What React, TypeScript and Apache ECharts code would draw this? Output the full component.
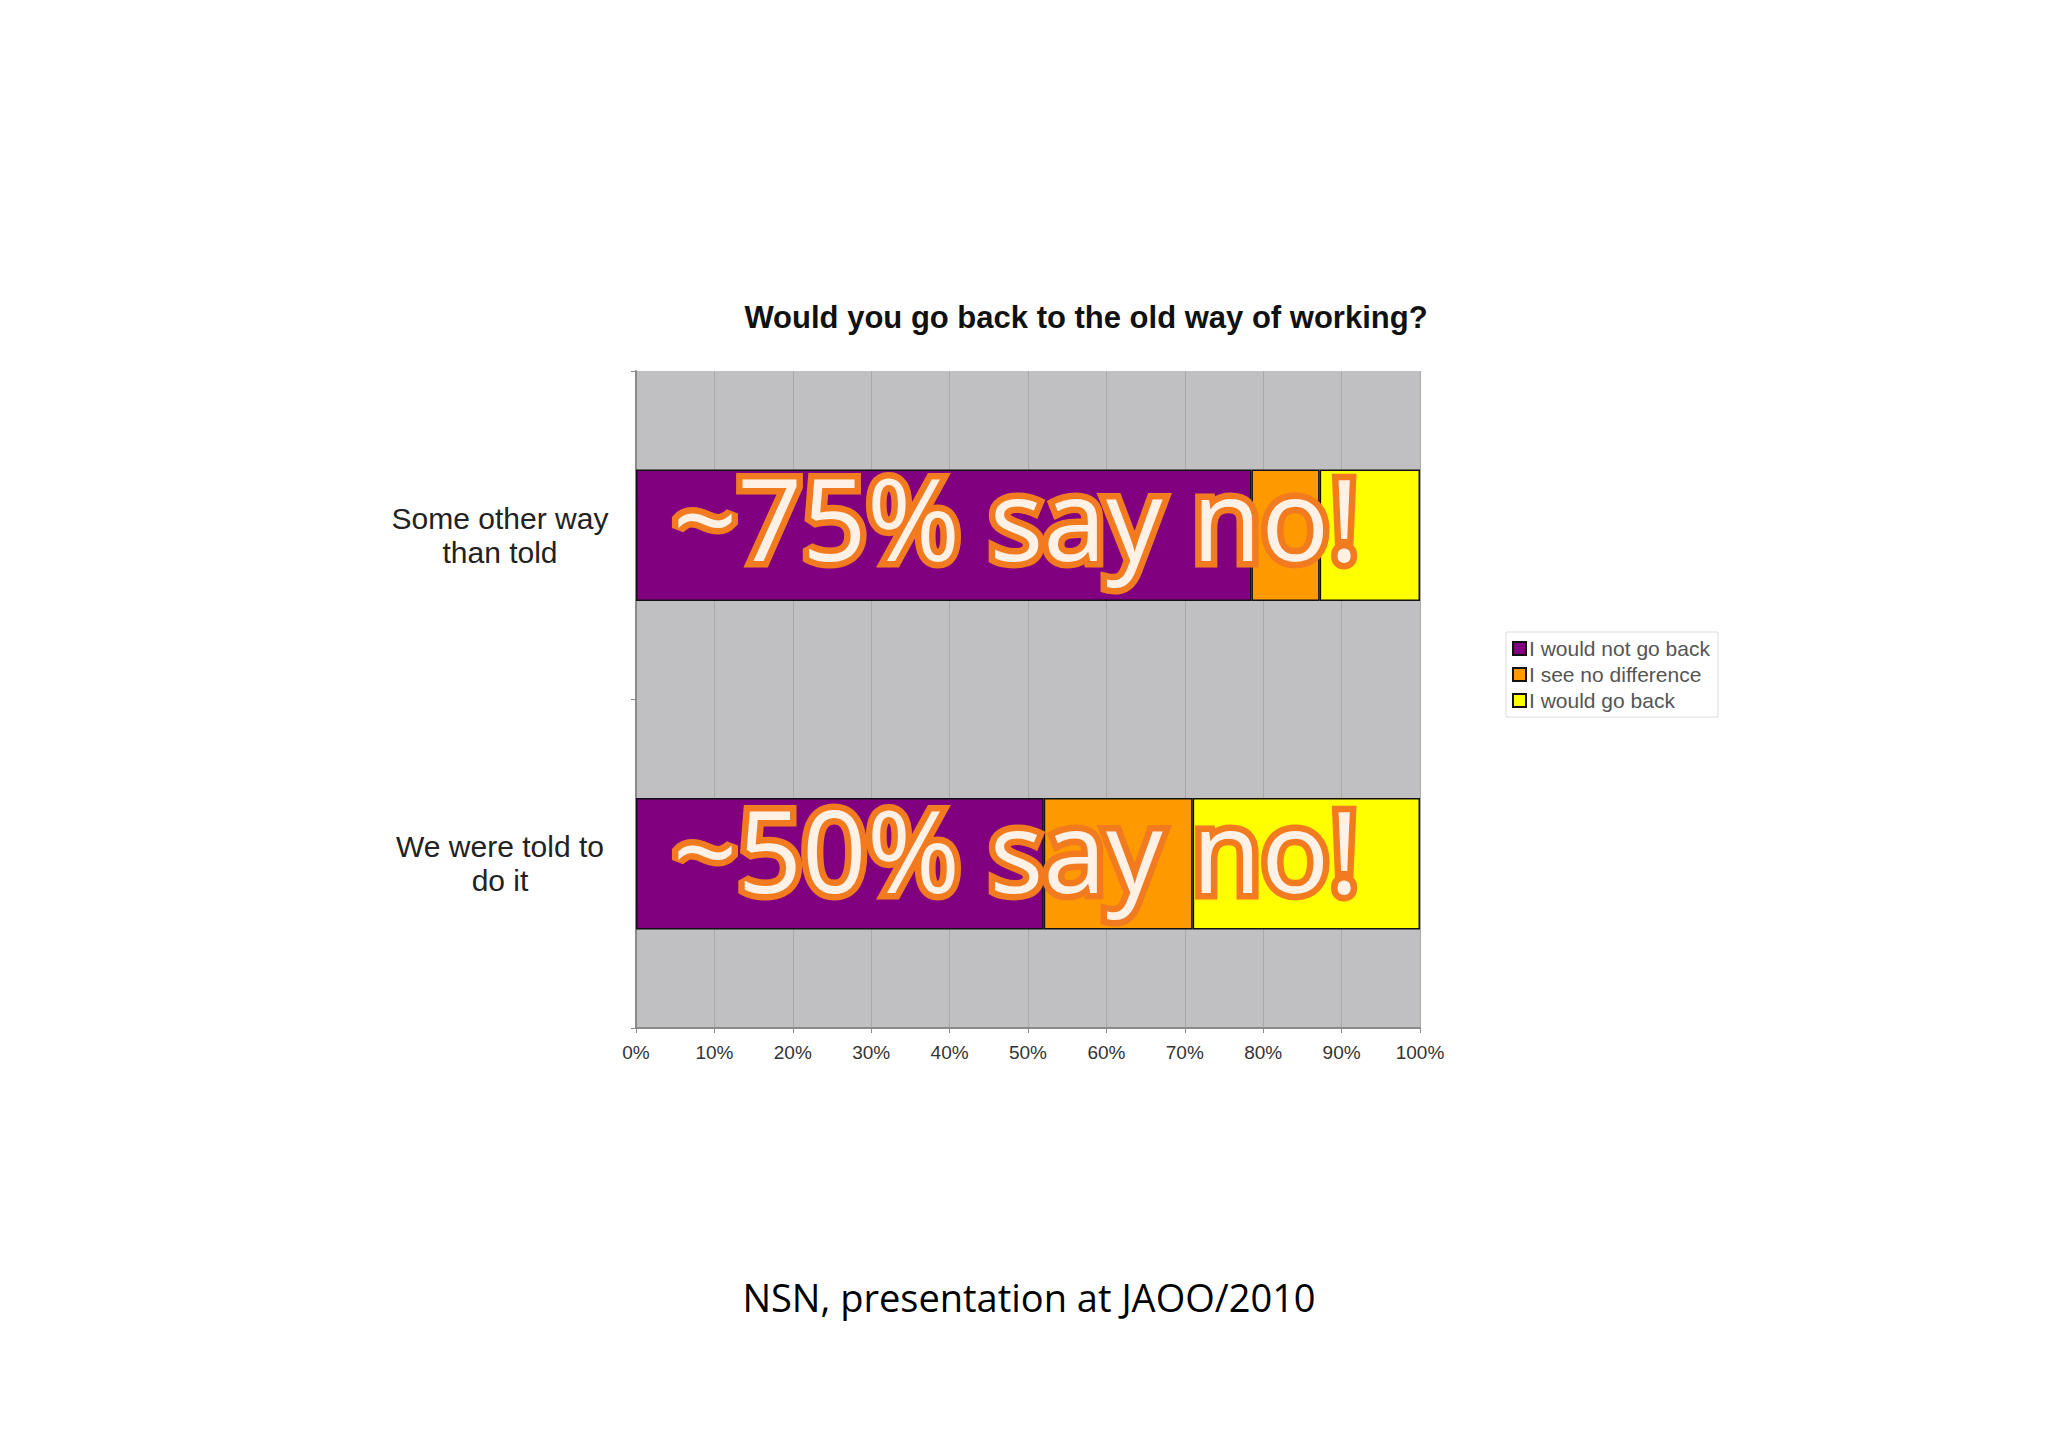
import React, { useEffect, useRef } from 'react'
import * as echarts from 'echarts'

const categories = ['Some other way\nthan told', 'We were told to\ndo it']
const seriesNames = ['I would not go back', 'I see no difference', 'I would go back']
const notGoBack = [78.5, 52]
const noDifference = [8.7, 19]
const goBack = [12.8, 29]
const xTicks = [0, 10, 20, 30, 40, 50, 60, 70, 80, 90, 100]
const colors = ['#800080', '#ff9900', '#ffff00']
const overlays = ['~75% say no!', '~50% say no!']

export default function App(): JSX.Element {
  const ref = useRef<HTMLDivElement>(null)

  useEffect(() => {
    if (!ref.current) return
    const chart = echarts.init(ref.current, null, { renderer: 'svg' })
    const values = [notGoBack, noDifference, goBack]
    const overlayY = [573, 905]

    // outline layer first, plain fill layer on top
    const overlayText = (t: string, i: number, outline: boolean) => ({
      type: 'text',
      x: 1016,
      y: overlayY[i],
      z: outline ? 100 : 101,
      style: {
        text: t,
        font: '113px "Open Sans"',
        textAlign: 'center',
        textVerticalAlign: 'bottom',
        fill: outline ? '#f27b1f' : '#fff1e6',
        stroke: outline ? '#f27b1f' : 'none',
        lineWidth: outline ? 13 : 0
      }
    })

    chart.setOption({
      animation: false,
      backgroundColor: '#ffffff',
      title: {
        text: 'Would you go back to the old way of working?',
        left: 1081,
        top: 297,
        textAlign: 'center',
        textStyle: { fontFamily: 'Liberation Sans', fontWeight: 'bold', fontSize: 31, color: '#111' }
      },
      legend: {
        orient: 'vertical',
        left: 1506,
        top: 632,
        icon: 'rect',
        itemWidth: 13,
        itemHeight: 13,
        itemGap: 5,
        padding: [6, 8, 6, 6],
        borderColor: '#dddddd',
        borderWidth: 1,
        data: seriesNames,
        textStyle: { fontFamily: 'Liberation Sans', fontSize: 21, color: '#555', padding: [0, 0, 0, -2] }
      },
      grid: {
        left: 636,
        top: 371,
        width: 784,
        height: 657,
        show: true,
        backgroundColor: '#c0bfc1',
        borderWidth: 0
      },
      xAxis: {
        type: 'value',
        min: 0,
        max: 100,
        interval: 10,
        axisLine: { show: true, lineStyle: { color: '#8a8a8a', width: 2 } },
        axisTick: { show: true, length: 5, lineStyle: { color: '#8a8a8a' } },
        splitLine: { show: true, lineStyle: { color: '#a9a9a9', width: 1 } },
        axisLabel: {
          margin: 15,
          fontFamily: 'Liberation Sans',
          fontSize: 19,
          color: '#333',
          formatter: (v: number) => (xTicks.includes(v) ? v + '%' : '')
        }
      },
      yAxis: {
        type: 'category',
        inverse: true,
        data: categories,
        axisLine: { show: true, lineStyle: { color: '#8a8a8a', width: 2 } },
        axisTick: { show: true, length: 5, lineStyle: { color: '#8a8a8a' } },
        axisLabel: {
          margin: 136,
          align: 'center',
          fontFamily: 'Liberation Sans',
          fontSize: 30,
          lineHeight: 34,
          color: '#222'
        }
      },
      series: seriesNames.map((name, i) => ({
        name,
        type: 'bar',
        stack: 'total',
        barCategoryGap: '60%',
        data: values[i],
        itemStyle: { color: colors[i], borderColor: '#111', borderWidth: 1.5 }
      })),
      graphic: [
        ...overlays.map((t, i) => overlayText(t, i, true)),
        ...overlays.map((t, i) => overlayText(t, i, false)),
        {
          type: 'text',
          x: 1029,
          y: 1297,
          style: {
            text: 'NSN, presentation at JAOO/2010',
            font: '38px "Open Sans"',
            textAlign: 'center',
            textVerticalAlign: 'middle',
            fill: '#000'
          }
        }
      ]
    })

    return () => chart.dispose()
  }, [])

  return (
    <div
      ref={ref}
      style={{ position: 'absolute', left: 0, top: 0, width: 2048, height: 1447 }}
    />
  )
}
